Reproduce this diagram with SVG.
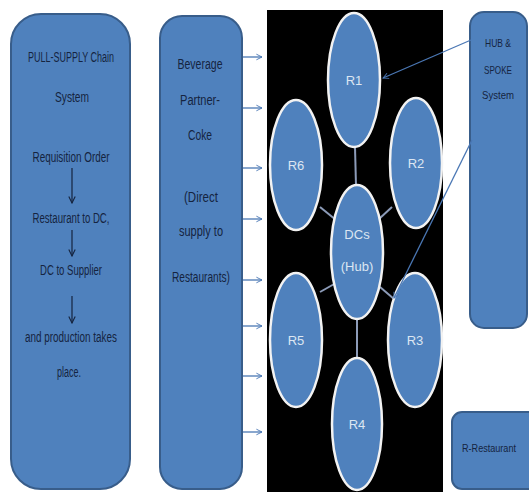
<svg xmlns="http://www.w3.org/2000/svg" width="529" height="495" viewBox="0 0 529 495">
<defs>
<style>
.box{fill:#4f81bd;stroke:#385d8a;stroke-width:2}
.t{font-family:"Liberation Sans",Arial,sans-serif;font-size:14px;fill:#15243f;text-anchor:middle}
.ts{font-family:"Liberation Sans",Arial,sans-serif;font-size:11px;fill:#15243f;text-anchor:middle}
.el{fill:#4f81bd;stroke:#f2f2f2;stroke-width:2.5}
.et{font-family:"Liberation Sans",Arial,sans-serif;font-size:13px;fill:#dce6f2;text-anchor:middle}
.spoke{stroke:#8c9bb8;stroke-width:2}
.arr{stroke:#4a77b4;stroke-width:1.3;fill:none}
.dk{stroke:#15243f;stroke-width:1.2;fill:none}
</style>
<marker id="ah" viewBox="0 0 10 10" refX="9" refY="5" markerWidth="7" markerHeight="9" orient="auto" markerUnits="userSpaceOnUse">
<path d="M1,1 L9,5 L1,9" fill="none" stroke="#4a77b4" stroke-width="1.3"/>
</marker>
<marker id="ad" viewBox="0 0 10 10" refX="9" refY="5" markerWidth="8" markerHeight="8" orient="auto" markerUnits="userSpaceOnUse">
<path d="M1,1 L9,5 L1,9" fill="none" stroke="#15243f" stroke-width="1.4"/>
</marker>
</defs>
<rect width="529" height="495" fill="#ffffff"/>
<g id="pull-supply">
<rect class="box" x="11" y="14" width="119" height="475" rx="30"/>
<text class="t" x="71" y="62" textLength="86" lengthAdjust="spacingAndGlyphs">PULL-SUPPLY Chain</text>
<text class="t" x="72" y="102" textLength="34" lengthAdjust="spacingAndGlyphs">System</text>
<text class="t" x="71" y="162" textLength="77" lengthAdjust="spacingAndGlyphs">Requisition Order</text>
<text class="t" x="71" y="223" textLength="77" lengthAdjust="spacingAndGlyphs">Restaurant to DC,</text>
<text class="t" x="71" y="275" textLength="62" lengthAdjust="spacingAndGlyphs">DC to Supplier</text>
<text class="t" x="71" y="342" textLength="92" lengthAdjust="spacingAndGlyphs">and production takes</text>
<text class="t" x="69" y="377" textLength="24" lengthAdjust="spacingAndGlyphs">place.</text>
<line class="dk" x1="72" y1="168" x2="72" y2="203" marker-end="url(#ad)"/>
<line class="dk" x1="72" y1="230" x2="72" y2="256" marker-end="url(#ad)"/>
<line class="dk" x1="72" y1="296" x2="72" y2="323" marker-end="url(#ad)"/>
</g>
<g id="beverage">
<rect class="box" x="160" y="16" width="82" height="473" rx="22"/>
<text class="t" x="200" y="69" textLength="45" lengthAdjust="spacingAndGlyphs">Beverage</text>
<text class="t" x="200" y="105" textLength="40" lengthAdjust="spacingAndGlyphs">Partner-</text>
<text class="t" x="200" y="140" textLength="24" lengthAdjust="spacingAndGlyphs">Coke</text>
<text class="t" x="201" y="202" textLength="34" lengthAdjust="spacingAndGlyphs">(Direct</text>
<text class="t" x="201" y="236" textLength="44" lengthAdjust="spacingAndGlyphs">supply to</text>
<text class="t" x="201" y="282" textLength="58" lengthAdjust="spacingAndGlyphs">Restaurants)</text>
</g>
<g id="hub-area">
<rect x="267" y="10" width="176" height="482" fill="#000000"/>
</g>
<g id="connectors">
<line class="spoke" x1="355" y1="147" x2="356" y2="186"/>
<line class="spoke" x1="320" y1="207" x2="336" y2="220"/>
<line class="spoke" x1="392" y1="207" x2="379" y2="219"/>
<line class="spoke" x1="320" y1="292" x2="336" y2="283"/>
<line class="spoke" x1="380" y1="287" x2="394" y2="299"/>
<line class="spoke" x1="357" y1="320" x2="357" y2="359"/>
<line class="arr" x1="243" y1="57" x2="262" y2="57" marker-end="url(#ah)"/>
<line class="arr" x1="243" y1="108" x2="262" y2="108" marker-end="url(#ah)"/>
<line class="arr" x1="243" y1="168" x2="262" y2="168" marker-end="url(#ah)"/>
<line class="arr" x1="243" y1="219" x2="262" y2="219" marker-end="url(#ah)"/>
<line class="arr" x1="243" y1="280" x2="262" y2="280" marker-end="url(#ah)"/>
<line class="arr" x1="243" y1="326" x2="262" y2="326" marker-end="url(#ah)"/>
<line class="arr" x1="243" y1="376" x2="262" y2="376" marker-end="url(#ah)"/>
<line class="arr" x1="243" y1="432" x2="262" y2="432" marker-end="url(#ah)"/>
</g>
<g id="R1"><ellipse class="el" cx="354" cy="80" rx="26" ry="67"/><text class="et" x="354" y="85">R1</text></g>
<g id="R6"><ellipse class="el" cx="296" cy="165" rx="26" ry="65"/><text class="et" x="296" y="170">R6</text></g>
<g id="R2"><ellipse class="el" cx="416" cy="163" rx="26" ry="65"/><text class="et" x="416" y="168">R2</text></g>
<g id="DCs"><ellipse class="el" cx="357" cy="252" rx="26" ry="67"/><text class="et" x="357" y="239" font-size="19">DCs</text><text class="et" x="357" y="271" font-size="19">(Hub)</text></g>
<g id="R5"><ellipse class="el" cx="296" cy="340" rx="26" ry="67"/><text class="et" x="296" y="345">R5</text></g>
<g id="R3"><ellipse class="el" cx="415" cy="340" rx="27" ry="67"/><text class="et" x="415" y="345">R3</text></g>
<g id="R4"><ellipse class="el" cx="357" cy="424" rx="25" ry="66"/><text class="et" x="357" y="429">R4</text></g>
<g id="hub-spoke">
<rect class="box" x="470" y="12" width="57" height="316" rx="14"/>
<text class="ts" x="498" y="47" font-size="12" textLength="26" lengthAdjust="spacingAndGlyphs">HUB &amp;</text>
<text class="ts" x="498" y="74" font-size="12" textLength="28" lengthAdjust="spacingAndGlyphs">SPOKE</text>
<text class="ts" x="498" y="99" font-size="12" textLength="32" lengthAdjust="spacingAndGlyphs">System</text>
</g>
<g id="hub-connectors">
<line class="arr" x1="471" y1="40" x2="383" y2="78" marker-end="url(#ah)"/>
<line class="arr" x1="472" y1="140" x2="394" y2="298" marker-end="url(#ah)"/>
</g>
<g id="r-restaurant">
<rect class="box" x="452" y="412" width="86" height="77" rx="10"/>
<text class="ts" x="489" y="452" font-size="10" textLength="54" lengthAdjust="spacingAndGlyphs">R-Restaurant</text>
</g>
</svg>
